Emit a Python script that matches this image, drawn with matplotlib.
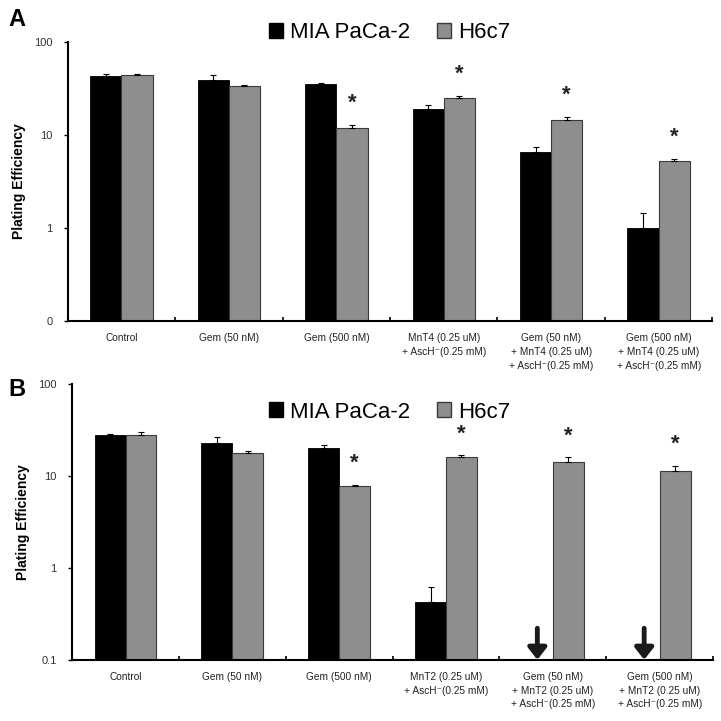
import matplotlib
matplotlib.use("Agg")
import matplotlib.pyplot as plt
from matplotlib.patches import Patch
import numpy as np

plt.rcParams['font.family'] = ['Liberation Sans', 'DejaVu Sans']

cats_a = ["Control", "Gem (50 nM)", "Gem (500 nM)",
          "MnT4 (0.25 uM)\n+ AscH\u207b(0.25 mM)",
          "Gem (50 nM)\n+ MnT4 (0.25 uM)\n+ AscH\u207b(0.25 mM)",
          "Gem (500 nM)\n+ MnT4 (0.25 uM)\n+ AscH\u207b(0.25 mM)"]
mia_a = [43, 39, 35, 19, 6.6, 1.0]
mia_a_err = [2.5, 4.5, 1.5, 2.0, 0.8, 0.45]
h6_a = [44, 33.5, 11.9, 25, 14.5, 5.2]
h6_a_err = [1.5, 0.8, 1.0, 1.0, 1.0, 0.35]
star_a = [False, False, True, True, True, True]
yticks_a = [0.1, 1, 10, 100]
yticklabels_a = ["0", "1", "10", "100"]

cats_b = ["Control", "Gem (50 nM)", "Gem (500 nM)",
          "MnT2 (0.25 uM)\n+ AscH\u207b(0.25 mM)",
          "Gem (50 nM)\n+ MnT2 (0.25 uM)\n+ AscH\u207b(0.25 mM)",
          "Gem (500 nM)\n+ MnT2 (0.25 uM)\n+ AscH\u207b(0.25 mM)"]
mia_b = [28, 22.8, 20, 0.43, np.nan, np.nan]
mia_b_err = [1.0, 4.0, 2.0, 0.19, 0, 0]
h6_b = [28, 18, 7.8, 16, 14.2, 11.3]
h6_b_err = [2.0, 0.6, 0.3, 0.8, 1.8, 1.6]
star_b = [False, False, True, True, True, True]
arrow_b = [False, False, False, False, True, True]
yticks_b = [0.1, 1, 10, 100]
yticklabels_b = ["0.1", "1", "10", "100"]

fig = plt.figure(figsize=(7.21, 7.21), dpi=100)

GRAY = "#8e8e8e"
W = 0.29


def panel(rect, cats, mia, mia_err, h6, h6_err, stars, yticks, yticklabels, arrows=None):
    ax = fig.add_axes(rect)
    x = np.arange(len(cats))
    ax.bar(x - W / 2, mia, W, color="black", edgecolor="black", linewidth=0.6)
    ax.bar(x + W / 2, h6, W, color=GRAY, edgecolor="#3a3a3a", linewidth=0.8)
    m = np.array(mia, dtype=float)
    ok = ~np.isnan(m)
    ax.errorbar((x - W / 2)[ok], m[ok], yerr=[np.zeros(ok.sum()), np.array(mia_err)[ok]],
                fmt="none", ecolor="black", elinewidth=0.8, capsize=2, capthick=0.8)
    ax.errorbar(x + W / 2, h6, yerr=[np.zeros(len(h6)), h6_err],
                fmt="none", ecolor="black", elinewidth=0.8, capsize=2, capthick=0.8)
    for i, s in enumerate(stars):
        if s:
            ax.annotate("*", (x[i] + W / 2, h6[i] + h6_err[i]), xytext=(0, 8),
                        textcoords="offset points", ha="center", va="bottom",
                        fontsize=16, fontweight="bold", color="#222222")
    if arrows is not None:
        for i, a in enumerate(arrows):
            if a:
                ax.annotate("", xy=(x[i] - W / 2, 0.1), xytext=(x[i] - W / 2, 0.22),
                            arrowprops=dict(arrowstyle="-|>,head_width=0.55,head_length=0.7",
                                            color="#1a1a1a", lw=3.5, shrinkA=0, shrinkB=0))
    ax.set_yscale("log")
    ax.set_ylim(0.1, 100)
    ax.set_xlim(-0.5, len(cats) - 0.5)
    ax.set_yticks(yticks)
    ax.set_yticklabels(yticklabels)
    ax.yaxis.set_minor_locator(matplotlib.ticker.NullLocator())
    ax.set_xticks(x)
    ax.set_xticklabels(cats, fontsize=7.3, linespacing=1.45, va="top", color="#222222")
    ax.set_xticks(np.arange(len(cats)) + 0.5, minor=True)
    ax.tick_params(axis="x", which="major", length=0, pad=9)
    ax.tick_params(axis="x", which="minor", length=3, direction="in", width=1.2)
    ax.tick_params(axis="y", which="major", length=3, direction="out", width=1,
                   labelsize=8, labelcolor="#333333", pad=8)
    for sp in ["top", "right"]:
        ax.spines[sp].set_visible(False)
    ax.spines["left"].set_linewidth(1.5)
    ax.spines["bottom"].set_linewidth(1.5)
    ax.set_ylabel("Plating Efficiency", fontsize=10, fontweight="bold", labelpad=6)
    return ax


ax_a = panel([0.094, 0.555, 0.894, 0.387], cats_a, mia_a, mia_a_err, h6_a, h6_a_err,
             star_a, yticks_a, yticklabels_a)
ax_b = panel([0.100, 0.085, 0.889, 0.382], cats_b, mia_b, mia_b_err, h6_b, h6_b_err,
             star_b, yticks_b, yticklabels_b, arrow_b)

handles = [Patch(facecolor="black", edgecolor="black"),
           Patch(facecolor=GRAY, edgecolor="#3a3a3a")]
labels = ["MIA PaCa-2", "H6c7"]
for yc in [1 - 33 / 721, 1 - 412 / 721]:
    fig.legend(handles, labels, loc="center", bbox_to_anchor=(0.54, yc), ncol=2,
               frameon=False, fontsize=16, handlelength=0.65, handleheight=0.65,
               handletextpad=0.3, columnspacing=1.2)

fig.text(0.012, 1 - 20 / 721, "A", fontsize=17, fontweight="bold", va="center")
fig.text(0.012, 1 - 390 / 721, "B", fontsize=17, fontweight="bold", va="center")

fig.savefig("out.png", dpi=100)
